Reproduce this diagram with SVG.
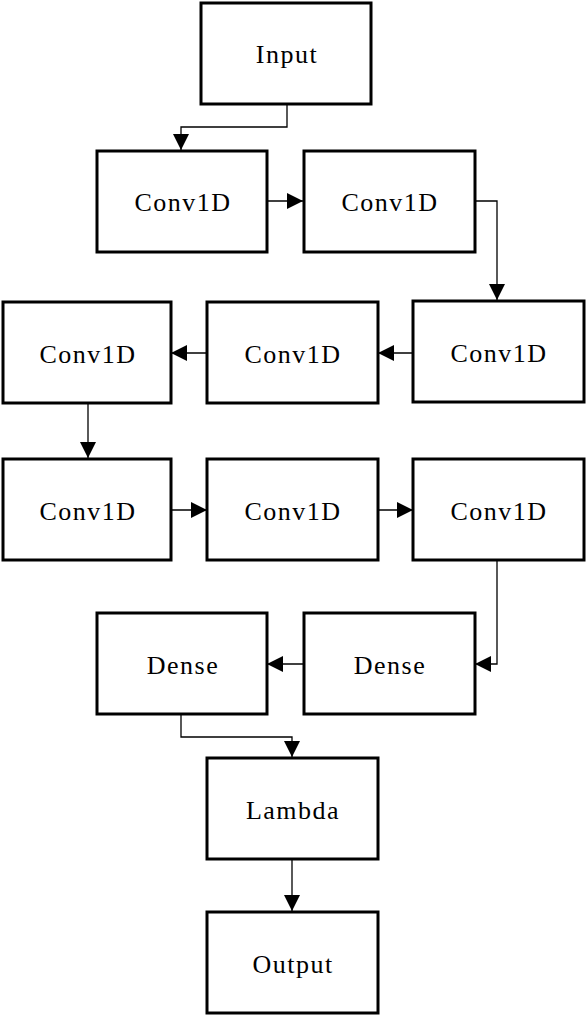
<svg xmlns="http://www.w3.org/2000/svg" width="586" height="1018" viewBox="0 0 586 1018">
<style>
.box{fill:#fff;stroke:#000;stroke-width:3}
.lbl{font-family:"Liberation Serif","Times New Roman",serif;font-size:26px;letter-spacing:1.5px;fill:#000;text-anchor:middle}
.con{fill:none;stroke:#000;stroke-width:1.3}
</style>
<defs>
<marker id="ah" viewBox="0 0 10 10" refX="10" refY="5" markerWidth="16" markerHeight="16" markerUnits="userSpaceOnUse" orient="auto">
<path d="M0,0 L10,5 L0,10 Z" fill="#000"/>
</marker>
</defs>
<rect width="586" height="1018" fill="#fff"/>
<g id="connectors">
<path class="con" d="M287,105 V127 H181 V150" marker-end="url(#ah)"/>
<path class="con" d="M267,201 H303" marker-end="url(#ah)"/>
<path class="con" d="M475,201 H497 V300" marker-end="url(#ah)"/>
<path class="con" d="M413,353 H378" marker-end="url(#ah)"/>
<path class="con" d="M207,353 H171" marker-end="url(#ah)"/>
<path class="con" d="M88,403 V458" marker-end="url(#ah)"/>
<path class="con" d="M171,510 H207" marker-end="url(#ah)"/>
<path class="con" d="M378,510 H413" marker-end="url(#ah)"/>
<path class="con" d="M497,561 V664 H475" marker-end="url(#ah)"/>
<path class="con" d="M304,664 H267" marker-end="url(#ah)"/>
<path class="con" d="M181,715 V737 H292 V757" marker-end="url(#ah)"/>
<path class="con" d="M292,860 V911" marker-end="url(#ah)"/>
</g>
<g id="input"><rect class="box" x="201" y="3" width="170" height="101"/><text class="lbl" x="287" y="63">Input</text></g>
<g id="conv1"><rect class="box" x="97" y="151" width="170" height="101"/><text class="lbl" x="183" y="211">Conv1D</text></g>
<g id="conv2"><rect class="box" x="304" y="151" width="171" height="101"/><text class="lbl" x="390" y="211">Conv1D</text></g>
<g id="conv3"><rect class="box" x="413" y="301" width="171" height="101"/><text class="lbl" x="499" y="362">Conv1D</text></g>
<g id="conv4"><rect class="box" x="207" y="302" width="171" height="101"/><text class="lbl" x="293" y="363">Conv1D</text></g>
<g id="conv5"><rect class="box" x="3" y="302" width="168" height="101"/><text class="lbl" x="88" y="363">Conv1D</text></g>
<g id="conv6"><rect class="box" x="3" y="459" width="168" height="101"/><text class="lbl" x="88" y="520">Conv1D</text></g>
<g id="conv7"><rect class="box" x="207" y="459" width="171" height="101"/><text class="lbl" x="293" y="520">Conv1D</text></g>
<g id="conv8"><rect class="box" x="413" y="459" width="171" height="101"/><text class="lbl" x="499" y="520">Conv1D</text></g>
<g id="dense2"><rect class="box" x="304" y="613" width="171" height="101"/><text class="lbl" x="390" y="674">Dense</text></g>
<g id="dense1"><rect class="box" x="97" y="613" width="170" height="101"/><text class="lbl" x="183" y="674">Dense</text></g>
<g id="lambda"><rect class="box" x="207" y="758" width="171" height="101"/><text class="lbl" x="293" y="819">Lambda</text></g>
<g id="output"><rect class="box" x="207" y="912" width="171" height="101"/><text class="lbl" x="293" y="973">Output</text></g>
</svg>
